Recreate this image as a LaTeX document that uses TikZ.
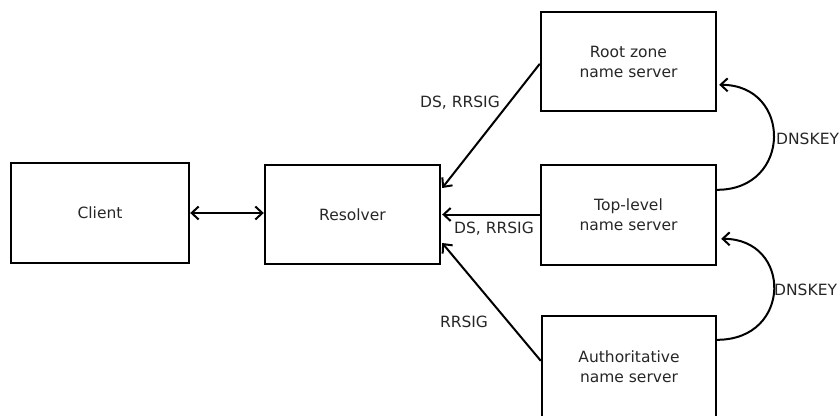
\documentclass[tikz,border=0pt]{standalone}
\usepackage{fontspec}
\setmainfont{DejaVu Sans}
\usetikzlibrary{arrows.meta,calc}
\begin{document}
\begin{tikzpicture}[x=1pt,y=-1pt,
  box/.style={draw,line width=2.4pt,rectangle,inner sep=0pt,align=center,
    font=\fontsize{15.5}{20}\selectfont,text=black!85},
  lbl/.style={font=\fontsize{15.5}{20}\selectfont,text=black!85,inner sep=0pt},
  conn/.style={line width=2pt,-{Straight Barb[length=7pt,width=13pt,line width=2pt]}},
  conn2/.style={line width=2pt,{Straight Barb[length=7pt,width=13pt,line width=2pt]}-{Straight Barb[length=7pt,width=13pt,line width=2pt]}}]
\useasboundingbox (0,0) rectangle (840,415);
\node[box,minimum width=178pt,minimum height=100pt] (client) at (100,213) {Client};
\node[box,minimum width=175pt,minimum height=99pt] (res) at (352.5,214.5) {Resolver};
\node[box,minimum width=175pt,minimum height=99pt] (root) at (628.5,61.5) {Root zone\\name server};
\node[box,minimum width=175pt,minimum height=100pt] (tld) at (628.5,215) {Top-level\\name server};
\node[box,minimum width=174pt,minimum height=102pt] (auth) at (629,367) {Authoritative\\name server};

\draw[conn2] (client.east) -- (client.east -| res.west);

\coordinate (r1) at ($(res.east)+(1,-26.5)$);
\coordinate (r2) at ($(res.east)+(1,0)$);
\coordinate (r3) at ($(res.east)+(1,28.5)$);
\coordinate (s1) at ($(root.north west)+(0,53)$);
\coordinate (s3) at ($(auth.north west)+(0,46)$);
\draw[conn] (s1) -- (r1);
\draw[conn] (tld.west |- r2) -- (r2);
\draw[conn] (s3) -- (r3);

\coordinate (k1s) at ($(tld.north east)+(0,26)$);
\coordinate (k1e) at ($(root.north east)+(2,74)$);
\coordinate (k2s) at ($(auth.north east)+(0,25)$);
\coordinate (k2e) at ($(tld.north east)+(4,75)$);
\draw[conn] (k1s) .. controls ($(k1s)+(75,0)$) and ($(k1e)+(73,0)$) .. (k1e);
\draw[conn] (k2s) .. controls ($(k2s)+(75,0)$) and ($(k2e)+(71,0)$) .. (k2e);

\node[lbl] (l1) at (460,103) {DS, RRSIG};
\node[lbl] (l2) at (494,229) {DS, RRSIG};
\node[lbl] (l3) at (464,322) {RRSIG};
\node[lbl,anchor=west] (l4) at (776,139) {DNSKEY};
\node[lbl,anchor=west] (l5) at (774,290) {DNSKEY};
\end{tikzpicture}
\end{document}
